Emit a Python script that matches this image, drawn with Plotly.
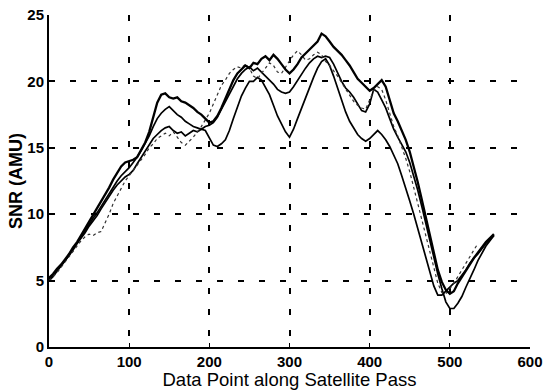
import plotly.graph_objects as go

# x positions of samples (data point index)
x_main = list(range(0, 556, 5))
x_dot = list(range(0, 536, 5))

snr_1 = [5.2,5.5,5.9,6.2,6.6,7.0,7.5,7.9,8.4,8.9,9.4,9.9,10.4,11.0,11.5,12.0,12.6,13.1,13.6,13.9,14.0,
         14.1,14.3,14.8,15.4,16.2,17.3,18.4,19.0,
         19.1,18.8,18.7,18.8,18.5,18.4,18.2,18.0,17.7,17.5,17.2,16.9,
         17.0,17.4,18.0,18.7,19.4,20.1,20.6,20.9,
         21.2,21.0,21.4,21.3,21.7,21.9,21.6,22.0,21.7,21.3,20.9,20.6,
         20.9,21.3,21.8,22.1,22.4,22.7,23.0,23.6,23.4,
         23.0,22.6,22.3,22.0,21.6,21.2,20.7,20.2,19.9,19.6,19.3,
         19.5,19.8,20.1,19.6,18.6,17.6,
         17.0,16.3,15.6,14.7,13.6,12.4,11.1,9.8,8.4,7.0,5.8,4.9,4.3,4.0,
         4.2,4.8,5.3,5.8,6.3,6.7,7.1,7.5,7.9,8.2,8.5]

snr_2 = [5.0,5.3,5.7,6.1,6.5,6.9,7.3,7.8,8.3,8.7,9.2,9.7,10.1,10.6,11.1,11.6,12.1,12.5,12.9,13.2,13.5,
         13.9,14.3,14.8,15.3,15.9,16.6,17.2,17.6,
         17.9,18.1,17.8,17.5,17.3,17.0,16.8,16.6,16.5,16.4,16.6,16.7,
         16.9,17.3,17.9,18.5,19.1,19.7,20.2,20.6,
         20.9,21.1,20.8,21.0,20.7,20.4,20.1,19.8,19.4,19.2,19.1,19.2,
         19.6,20.1,20.6,21.0,21.4,21.7,21.9,21.8,21.9,
         21.8,21.3,20.6,20.0,19.5,19.2,18.8,18.3,17.8,17.7,18.3,
         19.4,19.2,18.6,18.0,17.2,16.4,
         15.8,15.2,14.7,13.9,12.9,11.8,10.6,9.3,8.0,6.7,5.5,4.4,3.4,2.9,
         2.9,3.3,3.8,4.5,5.1,5.8,6.5,7.1,7.6,8.0,8.4]

snr_3 = [5.1,5.4,5.8,6.1,6.5,6.9,7.4,7.8,8.2,8.6,9.1,9.5,9.9,10.4,10.9,11.4,11.8,12.2,12.5,12.8,13.0,
         13.3,13.8,14.3,14.8,15.3,15.7,16.0,16.3,
         16.5,16.6,16.3,16.1,16.2,15.9,16.1,16.3,16.2,16.4,16.3,15.8,
         15.2,15.1,15.3,15.6,16.3,17.2,18.1,18.9,
         19.5,20.0,20.0,20.3,20.1,19.6,19.0,18.2,17.4,16.8,16.2,15.8,
         16.4,17.2,18.0,18.8,19.6,20.3,21.0,21.5,21.7,
         21.2,20.4,19.5,18.6,17.7,17.0,16.5,16.0,15.7,15.5,15.7,
         16.0,16.3,16.0,15.6,15.1,14.5,
         13.8,12.9,12.0,11.0,10.0,8.9,7.8,6.7,5.6,4.6,3.9,3.9,4.2,4.5,
         4.8,5.0,5.4,5.8,6.3,6.7,7.0,7.4,7.8,8.1,8.4]

snr_4 = [5.0,5.3,5.6,6.0,6.4,6.8,7.2,7.6,8.0,8.3,8.5,8.4,8.6,8.7,9.3,10.0,10.8,11.4,12.0,12.5,12.9,
         13.3,13.7,14.1,14.5,15.0,15.3,15.7,15.9,
         16.1,15.9,16.2,15.8,15.4,15.2,15.5,15.8,16.2,16.6,17.1,17.6,
         18.3,19.0,19.7,20.1,20.6,20.9,21.1,21.0,
         21.3,21.0,20.4,20.2,20.6,21.0,21.4,21.2,20.7,20.6,21.1,21.6,
         22.0,22.3,22.0,21.6,21.7,22.0,22.2,22.0,21.5,
         21.2,20.8,20.4,19.9,19.4,18.9,18.5,18.2,18.0,17.9,18.6,
         19.3,19.6,19.4,18.6,17.6,16.6,
         15.9,15.1,14.2,13.2,12.0,10.8,9.5,8.2,7.0,5.8,4.8,4.1,4.0,4.4,
         4.8,5.3,5.8,6.3,6.8,7.3,7.8]

x_ticks = [0, 100, 200, 300, 400, 500, 600]
y_ticks = [0, 5, 10, 15, 20, 25]

fig = go.Figure()
fig.add_trace(go.Scatter(x=x_main, y=snr_3, mode="lines", line=dict(color="black", width=1.7)))
fig.add_trace(go.Scatter(x=x_main, y=snr_2, mode="lines", line=dict(color="black", width=1.7)))
fig.add_trace(go.Scatter(x=x_dot, y=snr_4, mode="lines", line=dict(color="#333", width=1.2, dash="dot")))
fig.add_trace(go.Scatter(x=x_main, y=snr_1, mode="lines", line=dict(color="black", width=2.3)))

font_family = "Liberation Sans, Arial, sans-serif"
fig.update_layout(
    width=543, height=390,
    margin=dict(l=49, r=13, t=15, b=43),
    paper_bgcolor="white", plot_bgcolor="white",
    showlegend=False,
    font=dict(family=font_family, color="black"),
    xaxis=dict(range=[0, 600], tickvals=x_ticks, ticks="inside", ticklen=4, tickcolor="black",
               automargin=False,
               showline=True, linecolor="black", linewidth=2,
               showgrid=True, gridcolor="black", gridwidth=1.5, griddash="6px,15px",
               zeroline=False,
               tickfont=dict(size=15, weight="bold"),
               title=dict(text="Data Point along Satellite Pass", font=dict(size=18.5), standoff=1)),
    yaxis=dict(range=[0, 25], tickvals=y_ticks, ticks="inside", ticklen=4, tickcolor="black",
               automargin=False,
               showline=True, linecolor="black", linewidth=2,
               showgrid=True, gridcolor="black", gridwidth=1.5, griddash="6px,15px",
               zeroline=False,
               tickfont=dict(size=15, weight="bold"),
               title=dict(text="SNR (AMU)", font=dict(size=18, weight="bold"), standoff=0)),
)

fig.write_html("out.html")
